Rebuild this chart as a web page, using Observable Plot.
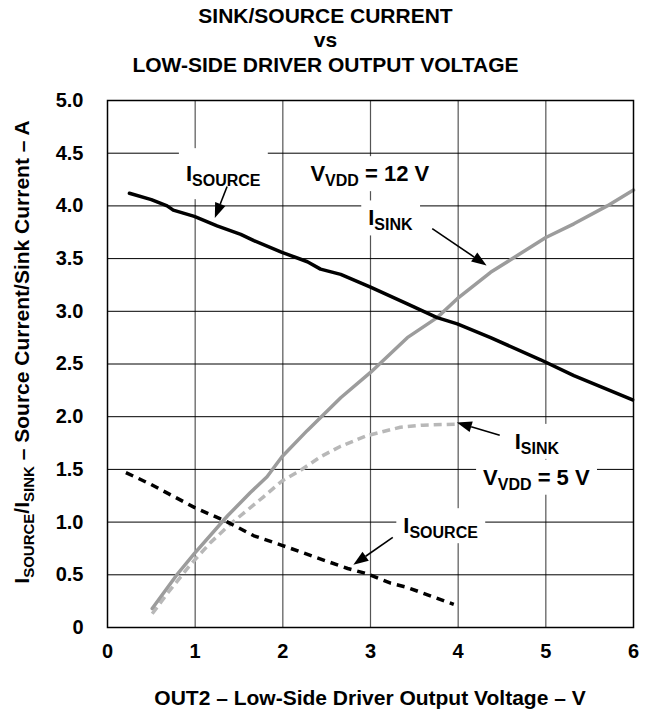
<!DOCTYPE html>
<html><head><meta charset="utf-8">
<script src="https://cdn.jsdelivr.net/npm/d3@7"></script>
<script src="https://cdn.jsdelivr.net/npm/@observablehq/plot@0.6"></script>
<style>
body{margin:0;background:#fff;}
#wrap{position:relative;width:647px;height:712px;font-family:"Liberation Sans",Arial,sans-serif;color:#000;}
#title{height:85px;text-align:center;font-weight:bold;font-size:21px;line-height:24.5px;padding-top:3.5px;box-sizing:border-box;padding-left:4px;}
#chart svg{display:block;}
</style></head><body>
<div id="wrap"><div id="title"></div><div id="chart"></div></div>
<script>
// ---- data ----
const xTicks = [0, 1, 2, 3, 4, 5, 6];
const yTicks = [0, 0.5, 1, 1.5, 2, 2.5, 3, 3.5, 4, 4.5, 5];
const xLabel = "OUT2 – Low-Side Driver Output Voltage – V";
const titleLines = ["SINK/SOURCE CURRENT", "vs", "LOW-SIDE DRIVER OUTPUT VOLTAGE"];

// VDD = 12 V, source current (black solid)
const source12X = [0.25, 0.50, 0.68, 0.75, 0.99, 1.25, 1.52, 1.67, 1.99, 2.28, 2.43, 2.66, 3.00, 3.42, 3.76, 3.99, 4.37, 4.94, 5.32, 5.70, 5.99];
const source12Y = [4.12, 4.06, 4.00, 3.96, 3.90, 3.81, 3.73, 3.67, 3.56, 3.47, 3.40, 3.35, 3.23, 3.07, 2.94, 2.88, 2.75, 2.54, 2.39, 2.26, 2.16];
// VDD = 12 V, sink current (gray solid)
const sink12X = [0.51, 0.80, 0.99, 1.37, 1.63, 1.82, 1.99, 2.28, 2.66, 3.00, 3.42, 3.76, 3.99, 4.37, 5.00, 5.32, 5.70, 6.00];
const sink12Y = [0.18, 0.51, 0.70, 1.06, 1.28, 1.43, 1.62, 1.87, 2.18, 2.42, 2.75, 2.94, 3.12, 3.37, 3.70, 3.83, 4.00, 4.15];
// VDD = 5 V, sink current (gray dashed)
const sink5X = [0.51, 0.68, 0.95, 1.18, 1.40, 1.59, 1.78, 1.99, 2.20, 2.43, 2.66, 2.96, 3.34, 3.60, 3.99];
const sink5Y = [0.13, 0.32, 0.60, 0.81, 0.98, 1.11, 1.24, 1.39, 1.49, 1.62, 1.72, 1.82, 1.90, 1.92, 1.93];
// VDD = 5 V, source current (black dashed)
const source5X = [0.21, 0.49, 0.99, 1.37, 1.67, 1.99, 2.36, 2.74, 2.96, 3.23, 3.42, 3.95];
const source5Y = [1.47, 1.36, 1.14, 1.00, 0.87, 0.78, 0.67, 0.56, 0.51, 0.42, 0.38, 0.22];

// annotation anchors (data units)
const annoX = [0.90, 2.32, 2.98, 4.65, 4.29, 3.38];
const annoY = [4.23, 4.23, 3.81, 1.69, 1.35, 0.89];
const annoMain = ["I", "V", "I", "I", "V", "I"];
const annoSub = ["SOURCE", "VDD", "SINK", "SINK", "VDD", "SOURCE"];
const annoRest = ["", " = 12 V", "", "", " = 5 V", ""];
// arrows (data units): from -> tip
const arrowX1 = [1.37, 3.71, 4.48, 3.26];
const arrowY1 = [4.18, 3.78, 1.82, 0.85];
const arrowX2 = [1.23, 4.33, 3.99, 2.81];
const arrowY2 = [3.88, 3.43, 1.94, 0.59];

const toRows = (xs, ys) => xs.map((x, i) => ({x, y: ys[i]}));

document.getElementById("title").innerHTML = titleLines.map(s => `<div>${s}</div>`).join("");

const FONT = "'Liberation Sans', Arial, Helvetica, sans-serif";

const plot = Plot.plot({
  width: 647, height: 627,
  marginTop: 15, marginBottom: 85, marginLeft: 107, marginRight: 14,
  style: {fontFamily: FONT, fontSize: "20px", fontWeight: "bold", color: "#000", background: "#fff", overflow: "visible"},
  x: {domain: [0, 6], ticks: xTicks, label: null},
  y: {domain: [0, 5], ticks: yTicks, label: null},
  marks: [
    Plot.ruleX(xTicks.slice(1, -1), {stroke: "#555", strokeWidth: 1.2}),
    Plot.ruleY(yTicks.slice(1, -1), {stroke: "#000", strokeWidth: 1}),
    Plot.axisX({ticks: xTicks, tickSize: 0, tickPadding: 16, label: null, tickFormat: d => String(d)}),
    Plot.axisY({ticks: yTicks, tickSize: 0, tickPadding: 24, label: null, tickFormat: d => d === 0 ? "0" : d.toFixed(1)}),
    Plot.line(toRows(sink5X, sink5Y), {x: "x", y: "y", stroke: "#b8b8b8", strokeWidth: 3.5, strokeDasharray: "8,5", strokeLinecap: "butt"}),
    Plot.line(toRows(source5X, source5Y), {x: "x", y: "y", stroke: "#000", strokeWidth: 3.5, strokeDasharray: "8,6", strokeLinecap: "butt"}),
    Plot.line(toRows(sink12X, sink12Y), {x: "x", y: "y", stroke: "#9c9c9c", strokeWidth: 3.5}),
    Plot.line(toRows(source12X, source12Y), {x: "x", y: "y", stroke: "#000", strokeWidth: 3.5}),
    Plot.frame({stroke: "#000", strokeWidth: 1.5})
  ]
});
document.getElementById("chart").appendChild(plot);

const sx = plot.scale("x").apply, sy = plot.scale("y").apply;
const svg = d3.select(plot);
const g = svg.append("g").attr("font-family", FONT).attr("font-weight", "bold")
  .attr("fill", "#000").attr("text-anchor", "start");

// annotations with white boxes
annoX.forEach((ax, i) => {
  const t = g.append("text").attr("x", sx(ax)).attr("y", sy(annoY[i])).attr("font-size", 22);
  t.append("tspan").text(annoMain[i]);
  t.append("tspan").attr("font-size", 16).attr("dy", 5).text(annoSub[i]);
  if (annoRest[i]) t.append("tspan").attr("dy", -5).text(annoRest[i]);
  const b = t.node().getBBox();
  const extraTop = i === 0 ? 8 : 0, extraBottom = i === 0 ? 8 : 0;
  g.insert("rect", () => t.node())
    .attr("x", b.x - 7).attr("y", b.y - 5 - extraTop)
    .attr("width", b.width + 14).attr("height", b.height + 7 + extraTop + extraBottom)
    .attr("fill", "#fff");
});

// arrows
arrowX1.forEach((x1, i) => {
  const p1 = [sx(x1), sy(arrowY1[i])], p2 = [sx(arrowX2[i]), sy(arrowY2[i])];
  const dx = p2[0] - p1[0], dy = p2[1] - p1[1], L = Math.hypot(dx, dy);
  const ux = dx / L, uy = dy / L, hl = 15, hw = 5.5;
  const bx = p2[0] - ux * hl, by = p2[1] - uy * hl;
  g.append("line").attr("x1", p1[0]).attr("y1", p1[1]).attr("x2", bx).attr("y2", by)
    .attr("stroke", "#000").attr("stroke-width", 1.6);
  g.append("path")
    .attr("d", `M${p2[0]},${p2[1]}L${bx - uy * hw},${by + ux * hw}L${bx + uy * hw},${by - ux * hw}Z`)
    .attr("fill", "#000");
});

// axis titles
const x0 = sx(0), x6 = sx(6);
g.append("text").attr("x", (x0 + x6) / 2).attr("y", 620).attr("text-anchor", "middle")
  .attr("font-size", 21).text(xLabel);

const yl = g.append("text").attr("transform", "translate(29,267) rotate(-90)")
  .attr("text-anchor", "middle").attr("font-size", 21);
yl.append("tspan").text("I");
yl.append("tspan").attr("font-size", 15).attr("dy", 5).text("SOURCE");
yl.append("tspan").attr("dy", -5).text("/I");
yl.append("tspan").attr("font-size", 15).attr("dy", 5).text("SINK");
yl.append("tspan").attr("dy", -5).text(" – Source Current/Sink Current – A");
</script>
</body></html>
